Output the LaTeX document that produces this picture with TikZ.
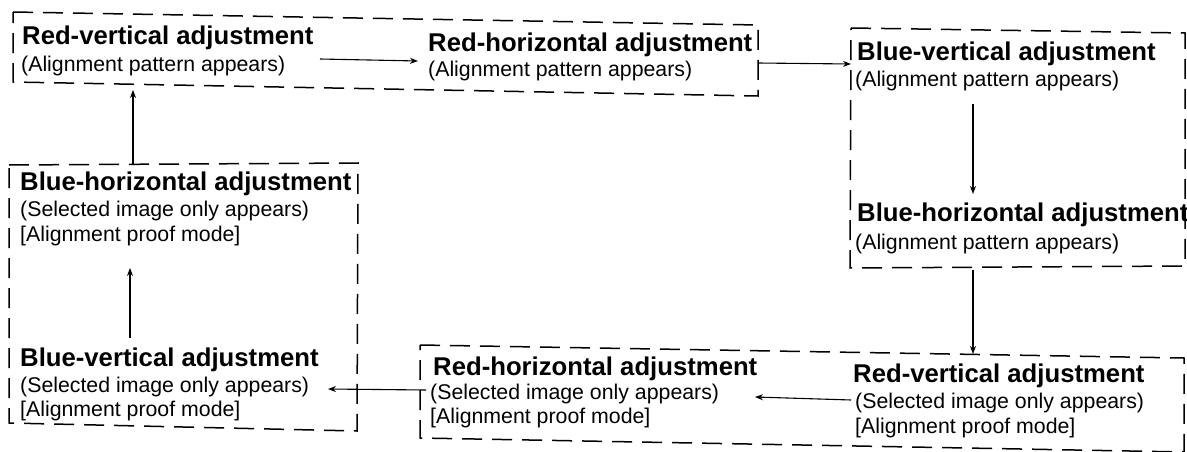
\documentclass[tikz,border=0pt]{standalone}
\usepackage{fontspec}
\setmainfont{Liberation Sans}
\usetikzlibrary{arrows.meta}
\begin{document}
\begin{tikzpicture}[x=1pt,y=-1pt,
  frame/.style={line width=1.5pt, dash pattern=on 20pt off 10pt},
  ttl/.style={anchor=base west, inner sep=0pt, font=\fontsize{25.7}{30}\selectfont\bfseries},
  sub/.style={anchor=base west, inner sep=0pt, font=\fontsize{21.3}{25}\selectfont},
  conn/.style={line width=1.1pt, -{Stealth[length=8pt,width=6pt]}}]
\useasboundingbox (0,0) rectangle (1187,452);
\fill[white] (0,0) rectangle (1187,452);

% dashed frames
\draw[frame] (13,12) -- (758,25) -- (758,96) -- (13,82) -- cycle;
\draw[frame] (851,28) -- (1185,33) -- (1185,266) -- (850,268) -- cycle;
\draw[frame] (420,345) -- (1184,358) -- (1184,452) -- (420,438) -- cycle;
\draw[frame] (9,165) -- (358,163) -- (357,431) -- (9,423) -- cycle;

% box 1
\node[ttl] (rv1) at (22,45) {Red-vertical adjustment};
\node[sub] (rv1s) at (21,72) {(Alignment pattern appears)};
\node[ttl] (rh1) at (428,52) {Red-horizontal adjustment};
\node[sub] (rh1s) at (428,77) {(Alignment pattern appears)};

% box 2
\node[ttl] (bv2) at (857,61) {Blue-vertical adjustment};
\node[sub] (bv2s) at (855,87) {(Alignment pattern appears)};
\node[ttl] (bh2) at (857,221) {Blue-horizontal adjustment};
\node[sub] (bh2s) at (855,249) {(Alignment pattern appears)};

% box 3
\node[ttl] (rh3) at (433,375) {Red-horizontal adjustment};
\node[sub] (rh3s) at (430,399) {(Selected image only appears)};
\node[sub] (rh3p) at (430,423) {[Alignment proof mode]};
\node[ttl] (rv3) at (853,382) {Red-vertical adjustment};
\node[sub] (rv3s) at (855,408) {(Selected image only appears)};
\node[sub] (rv3p) at (855,433) {[Alignment proof mode]};

% box 4
\node[ttl] (bh4) at (20,190) {Blue-horizontal adjustment};
\node[sub] (bh4s) at (20,216) {(Selected image only appears)};
\node[sub] (bh4p) at (20,241) {[Alignment proof mode]};
\node[ttl] (bv4) at (20,366) {Blue-vertical adjustment};
\node[sub] (bv4s) at (20,392) {(Selected image only appears)};
\node[sub] (bv4p) at (20,416) {[Alignment proof mode]};

% connector ends
\coordinate (a1s) at (320,59);  \coordinate (a1e) at (418,61);
\coordinate (a2s) at (758,63);  \coordinate (a2e) at (851,64);
\coordinate (a3s) at (973,104); \coordinate (a3e) at (973,194);
\coordinate (a4s) at (973,270); \coordinate (a4e) at (973,354);
\coordinate (a5s) at (851,400); \coordinate (a5e) at (755,397);
\coordinate (a6s) at (426,390); \coordinate (a6e) at (328,389);
\coordinate (a7s) at (130,338); \coordinate (a7e) at (130,268);
\coordinate (a8s) at (133,164); \coordinate (a8e) at (133,90);

\draw[conn] (a1s) -- (a1e);
\draw[conn] (a2s) -- (a2e);
\draw[conn] (a3s) -- (a3e);
\draw[conn] (a4s) -- (a4e);
\draw[conn] (a5s) -- (a5e);
\draw[conn] (a6s) -- (a6e);
\draw[conn] (a7s) -- (a7e);
\draw[conn] (a8s) -- (a8e);
\end{tikzpicture}
\end{document}
